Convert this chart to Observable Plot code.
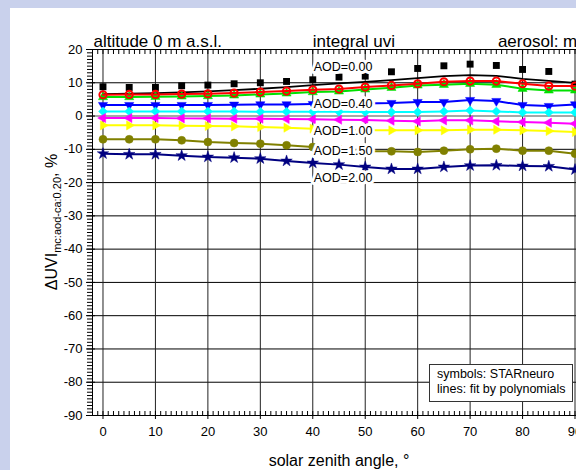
<!DOCTYPE html>
<html>
<head>
<meta charset="utf-8">
<script src="https://cdn.jsdelivr.net/npm/d3@7"></script>
<script src="https://cdn.jsdelivr.net/npm/@observablehq/plot@0.6"></script>
<style>
  html, body { margin: 0; padding: 0; }
  body {
    width: 576px; height: 470px; overflow: hidden; position: relative;
    background: #c9d1ec;
    font-family: "Liberation Sans", Arial, Helvetica, sans-serif;
  }
  #panel { position: absolute; left: 10px; top: 8px; width: 620px; height: 470px; background: #fff; }
  #chart { position: absolute; left: 0; top: 0; }
  #note {
    position: absolute; left: 419px; top: 356px; width: 144px; height: 38px;
    box-sizing: border-box; border: 1px solid #333; background: #fff;
    padding: 2px 0 0 7px; font-size: 12.5px; line-height: 15px; color: #000; white-space: nowrap;
  }
</style>
</head>
<body>
<div id="panel">
  <div id="chart"></div>
  <div id="note">symbols: STARneuro<br>lines: fit by polynomials</div>
</div>
<script>
// solar zenith angles of the STARneuro runs
const sza = [0, 5, 10, 15, 20, 25, 30, 35, 40, 45, 50, 55, 60, 65, 70, 75, 80, 85, 90];

// ΔUVI (%) relative to AOD 0.20, one list per aerosol optical depth
const aod000 = [8.8, 8.6, 8.6, 9.1, 9.3, 9.7, 10.0, 10.4, 10.9, 11.7, 12.0, 13.3, 14.3, 15.1, 15.6, 15.2, 14.0, 13.4, 9.6];
const aod000Fit = [6.6, 6.7, 6.9, 7.1, 7.4, 7.8, 8.2, 8.7, 9.3, 9.8, 10.3, 10.8, 11.4, 12.0, 12.3, 12.1, 11.2, 10.6, 10.0];
const aodRed = [6.4, 6.5, 6.5, 6.6, 6.7, 6.9, 7.2, 7.5, 7.9, 8.1, 8.7, 9.2, 9.7, 10.3, 10.5, 10.5, 9.7, 9.0, 9.0];
const aodGreen = [5.7, 5.7, 5.8, 5.9, 6.0, 6.2, 6.5, 6.8, 7.2, 7.4, 8.0, 8.5, 9.2, 9.4, 9.7, 9.4, 8.2, 7.7, 7.7];
const aod040 = [3.3, 3.3, 3.3, 3.3, 3.3, 3.4, 3.5, 3.5, 3.6, 3.7, 3.8, 3.9, 4.2, 4.2, 4.8, 4.5, 3.3, 3.0, 3.5];
const aodCyan = [1.4, 1.4, 1.4, 1.4, 1.4, 1.4, 1.3, 1.3, 1.3, 1.3, 1.2, 1.2, 1.2, 1.4, 1.7, 1.4, 1.1, 1.1, 1.1];
const aodMagenta = [-0.6, -0.6, -0.6, -0.7, -0.7, -0.8, -0.8, -0.9, -1.0, -1.1, -1.2, -1.4, -1.6, -1.3, -1.3, -1.6, -1.8, -2.0, -2.3];
const aod100 = [-2.8, -2.8, -2.8, -2.9, -3.0, -3.1, -3.3, -3.5, -3.8, -4.1, -4.3, -4.3, -4.3, -4.3, -4.1, -4.1, -4.3, -4.5, -4.8];
const aod150 = [-7.0, -7.0, -7.0, -7.3, -7.8, -8.1, -8.3, -8.8, -9.3, -10.0, -10.6, -10.6, -10.8, -10.4, -10.0, -9.8, -10.4, -10.4, -11.3];
const aod200 = [-11.3, -11.5, -11.5, -11.9, -12.3, -12.5, -12.8, -13.5, -14.1, -14.6, -15.3, -15.9, -15.9, -15.3, -14.9, -14.8, -15.0, -15.1, -16.1];

// curve annotations
const labelText = ["AOD=0.00", "AOD=0.40", "AOD=1.00", "AOD=1.50", "AOD=2.00"];
const labelY = [14.7, 3.7, -4.4, -10.6, -18.7];
const labelSza = 40;

// axis ticks
const xTicks = [0, 10, 20, 30, 40, 50, 60, 70, 80, 90];
const yTicks = [-90, -80, -70, -60, -50, -40, -30, -20, -10, 0, 10, 20];

const FONT = '"Liberation Sans", Arial, Helvetica, sans-serif';
const W = 590, H = 462, mL = 82, mR = 15, mT = 41, mB = 55;
const plotH = H - mT - mB, plotW = W - mL - mR;

// triangle symbol pointing in a given direction (radians, screen coordinates)
function triangle(angle) {
  return {
    draw(ctx, size) {
      const R = Math.sqrt(size / (3 * Math.sqrt(3) / 4));
      for (let k = 0; k < 3; ++k) {
        const a = angle + k * 2 * Math.PI / 3;
        const px = R * Math.cos(a), py = R * Math.sin(a);
        if (k === 0) ctx.moveTo(px, py); else ctx.lineTo(px, py);
      }
      ctx.closePath();
    }
  };
}
const triUp = triangle(-Math.PI / 2), triDown = triangle(Math.PI / 2);
const triLeft = triangle(Math.PI), triRight = triangle(0);

const rows = (values) => sza.map((x, i) => ({x, y: values[i]}));

function series(values, color, symbol, opts = {}) {
  const data = rows(values);
  const marks = [];
  if (opts.line !== false) marks.push(Plot.line(data, {x: "x", y: "y", stroke: color, strokeWidth: 2}));
  marks.push(Plot.dot(data, {
    x: "x", y: "y", symbol, r: opts.r ?? 3.8,
    fill: opts.open ? "none" : color, stroke: color, strokeWidth: opts.open ? 2 : 0.5
  }));
  return marks;
}

const xs = d3.range(-2, 93, 1);
const ys = d3.range(-90, 21, 1);

const chart = Plot.plot({
  width: W, height: H,
  marginLeft: mL, marginRight: mR, marginTop: mT, marginBottom: mB,
  style: {background: "transparent", maxWidth: "none", fontFamily: FONT, fontSize: "13px", color: "#000", overflow: "visible"},
  x: {domain: [-2, 92], axis: null},
  y: {domain: [-90, 20], axis: null},
  marks: [
    // grid
    Plot.ruleY(yTicks.filter(d => d !== 0 && d !== 20 && d !== -90), {stroke: "#000", strokeWidth: 1}),
    Plot.ruleY([0], {stroke: "#888", strokeWidth: 1.5}),
    Plot.ruleX(xTicks, {stroke: "#222", strokeWidth: 1}),
    // minor ticks: top and bottom inside, left outside
    Plot.ruleX(xs, {insetBottom: plotH - 5, stroke: "#000"}),
    Plot.ruleX(xs, {insetTop: plotH - 4, stroke: "#000"}),
    Plot.ruleY(ys, {insetLeft: -5, insetRight: plotW, stroke: "#000"}),
    Plot.ruleY(yTicks, {insetLeft: -6, insetRight: plotW - 3, stroke: "#000"}),
    Plot.frame({stroke: "#000", strokeWidth: 1}),
    // axes
    Plot.axisX({anchor: "bottom", ticks: xTicks, tickSize: 4, tickPadding: 7, tickFormat: d => String(d), label: null, fontSize: 13}),
    Plot.axisY({anchor: "left", ticks: yTicks, tickSize: 0, tickPadding: 10, tickFormat: d => String(d), label: null, fontSize: 13}),
    // data
    Plot.line(rows(aod000Fit), {x: "x", y: "y", stroke: "#000", strokeWidth: 1.8}),
    Plot.dot(rows(aod000), {x: "x", y: "y", symbol: "square", r: 3.9, fill: "#000"}),
    ...series(aodGreen, "#00e000", triUp, {r: 3.4}),
    ...series(aodRed, "#ff0000", "circle", {open: true, r: 3.6}),
    ...series(aod040, "#0000ff", triDown, {r: 3.4}),
    ...series(aodCyan, "#00ffff", "diamond2", {r: 4.0}),
    ...series(aodMagenta, "#ff00ff", triLeft, {r: 3.4}),
    ...series(aod100, "#ffff00", triRight, {r: 3.4}),
    ...series(aod150, "#808000", "circle", {r: 4.0}),
    ...series(aod200, "#000080", "star", {r: 3.6}),
    // curve labels
    Plot.text(labelText, {
      x: () => labelSza, y: (d, i) => labelY[i], text: d => d,
      textAnchor: "start", dx: 1, fontSize: 12.5, fill: "#000", stroke: "#fff", strokeWidth: 6
    }),
    // panel headings
    Plot.text(["altitude 0 m a.s.l."], {frameAnchor: "top-left", lineAnchor: "bottom", textAnchor: "start", dy: -3, dx: 1, fontSize: 17}),
    Plot.text(["integral uvi"], {x: () => 40, frameAnchor: "top", lineAnchor: "bottom", textAnchor: "start", dy: -3, fontSize: 17}),
    Plot.text(["aerosol: mc"], {x: () => 75.3, frameAnchor: "top", lineAnchor: "bottom", textAnchor: "start", dy: -3, fontSize: 17}),
    // x axis title
    Plot.text(["solar zenith angle, °"], {x: () => 45, frameAnchor: "bottom", lineAnchor: "bottom", dy: 50, fontSize: 16})
  ]
});

// y axis title with subscript
const svg = d3.select(chart);
const cy = mT + plotH / 2 - 10;
const yl = svg.append("text")
  .attr("transform", `translate(47,${cy}) rotate(-90)`)
  .attr("text-anchor", "middle")
  .attr("font-family", FONT)
  .attr("font-size", 16)
  .attr("fill", "#000");
yl.append("tspan").text("ΔUVI");
yl.append("tspan").attr("font-size", 11).attr("dy", 4).text("mc:aod-ca:0.20");
yl.append("tspan").attr("dy", -4).text(", %");

document.getElementById("chart").appendChild(chart);
</script>
</body>
</html>
